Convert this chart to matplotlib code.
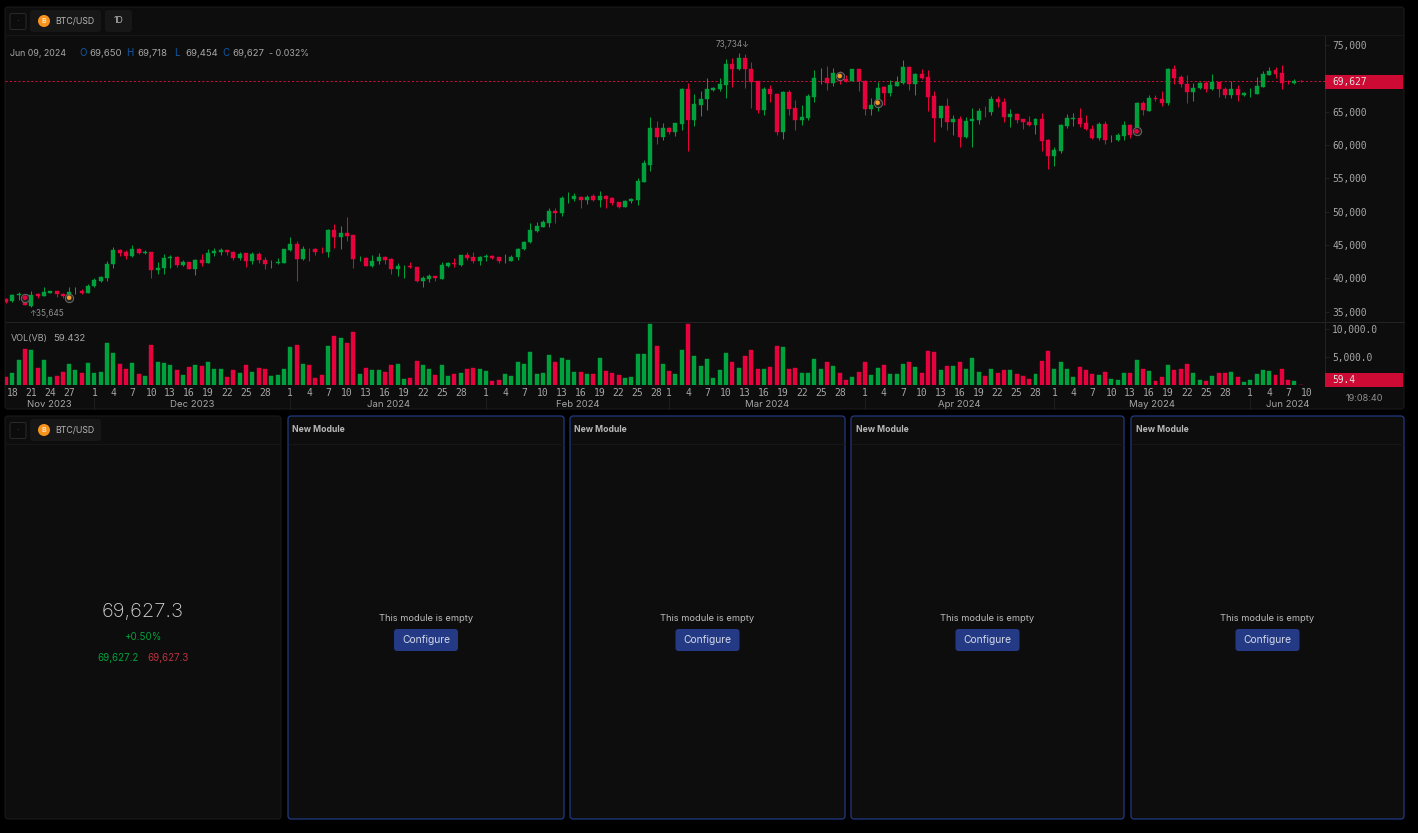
import numpy as np
import pandas as pd
import matplotlib
matplotlib.use('Agg')
import matplotlib.pyplot as plt
import matplotlib.dates as mdates
from matplotlib.patches import FancyBboxPatch, Rectangle, Circle

W, H = 1418, 833

# daily BTC/USD candles, Nov 17 2023 to Jun 9 2024
start_date = '2023-11-17'
opens = [36900,36600,37550,37500,35900,37600,37400,37850,38050,37700,37500,38190,38100,37800,
    38800,39600,40050,42100,44250,44000,43350,44350,43750,44000,41300,41550,43000,43200,42000,42450,41450,42750,42350,43750,44000,44200,43950,43100,43750,42600,43650,42750,42390,42250,42350,
    44250,45150,42900,43510,44350,44210,44000,47200,46250,46800,46450,42890,43000,41900,42600,43250,42850,41450,40990,41800,41700,39600,39950,40300,39950,41900,42250,42050,43450,43150,42650,
    43250,43350,43150,42890,42650,43150,44350,45400,47150,47750,48350,50100,49800,51990,51850,52250,51700,52300,51800,52400,52050,51450,50750,51600,51800,54500,57050,62550,61200,
    62550,62000,63150,68400,63750,65950,66900,68300,68400,69000,72150,71400,73100,71450,69600,65200,68400,67650,61900,67950,65550,63750,64000,67200,69990,70050,69300,70750,69900,69600,71350,
    69650,65400,65900,68650,67750,68850,69250,71700,69150,70650,70150,67350,64050,65800,63450,63900,61250,63550,63750,65010,64950,66950,66450,64200,64600,63900,63500,63000,63900,60700,
    58350,59100,62900,63950,64100,63250,62400,61100,63150,60990,60750,61350,63050,61750,66250,65150,67050,66950,66250,71450,70150,69200,67950,68500,69350,68350,69450,68350,67550,68350,67500,
    67890,67650,68700,70500,71200,70750,69310,69250,69650]
closes = [36500,37550,37700,35950,37550,37400,37950,38050,37650,37400,38000,38200,37800,38900,
    39700,40200,42200,44250,43750,43400,44350,43800,43950,41300,41600,43050,43200,42000,42450,41450,42800,42300,43850,44100,44200,43900,43100,43700,42600,43650,42700,42200,42400,42450,44350,
    45150,42900,44350,43500,44000,44200,47200,46200,46800,46400,42950,42900,41900,42650,43250,42800,41400,41800,41000,41650,39600,40050,40300,40000,41950,42250,42100,43450,43050,42650,43250,
    43400,43050,42650,42900,43250,44450,45500,47250,47850,48450,50100,49800,52050,52000,52300,51700,52250,51800,52350,51900,51300,50750,51650,51900,54600,57250,62550,61200,62550,
    62000,63250,68400,63750,66150,66950,68350,68550,69100,72150,71400,73100,71350,69500,65250,68400,67600,61900,67950,65400,63750,64150,67350,70000,70000,69300,70750,69650,69600,71350,69650,
    65400,65950,68600,67800,68950,69450,71700,69150,70650,70000,67200,64050,65800,63450,63900,61250,63650,63900,65100,65000,66950,66400,64200,64600,63750,63450,63000,63900,60600,58350,
    59200,63050,64000,64100,63100,62350,61100,63150,60800,61000,61450,63000,61500,66300,65200,67000,66900,66250,71450,70050,69100,67950,68600,69350,68350,69450,68350,67550,68350,67450,67800,
    67900,68800,70650,71050,70700,69300,69300,69650,69627]
highs = [37100,37700,37950,37500,38100,37850,38650,38100,38100,37750,38650,38650,38350,39100,
    40000,40350,42550,44650,44450,44250,44950,44500,44250,44000,42450,43600,43450,43300,42750,42500,42900,43650,44450,44500,44550,44250,44050,43900,43800,43900,43950,43250,42750,43100,44400,
    46150,45550,44900,44500,44500,44700,47350,48150,47850,49150,46550,43350,43200,43450,43750,43350,43000,42300,41950,42450,41750,40300,40600,40400,42400,42500,43050,43550,43900,43950,43350,
    43650,43550,43250,43650,43450,44550,45650,48350,48400,48700,50500,50600,52300,52950,52750,52400,52500,52650,53050,52550,52200,51500,51750,52100,55000,57700,64150,63650,63250,
    62650,63350,68550,69250,67650,68150,70000,68750,70000,72900,73000,73734,73700,72500,69650,68750,68950,67750,68050,68200,66750,65950,67600,71200,71550,71800,71550,71050,70500,71400,71400,
    69750,67000,69450,68850,69750,70400,72750,71850,70750,71350,71200,68050,65850,67000,64500,64350,64150,65500,65500,65850,67350,67350,67000,65400,64800,63950,64300,64100,64750,60900,
    59700,63150,64600,64750,65500,64450,63000,63500,63600,61500,61750,63550,63150,66450,66650,67550,67550,68050,71500,72000,70550,70450,69350,69500,69650,70650,69500,68750,69600,69000,67900,
    68500,70250,71050,71650,71650,72000,69700,69900,69718]
lows = [36350,36500,36750,35950,35645,37000,37350,37750,37200,37000,36500,37700,37650,37750,
    38700,39500,39650,41500,43400,42900,43250,43650,43650,40100,40650,40650,41500,41750,41850,41350,40550,41900,42300,43350,43500,43450,42800,42800,41700,42200,42300,41400,41600,42150,42300,
    44150,39650,42800,42600,43500,43750,43250,44550,44350,45650,41500,42600,41800,41750,42150,42200,40650,40300,40050,41600,39450,38650,39500,39650,39900,41650,41750,41900,42750,42350,42000,
    42600,42900,42350,42350,42600,42800,44300,45300,47000,47700,47650,48250,49350,51300,51650,50600,51200,51650,50750,50600,51000,50600,50650,51350,51000,54450,56100,60100,60800,
    61650,61400,62250,59150,62850,64350,65200,68050,68150,67100,68650,71250,68500,65550,64750,64500,66450,61550,60850,64500,62250,63050,63750,66400,69150,68250,68900,69150,69500,69550,68050,
    64550,64500,65100,65950,67400,68850,69150,68250,67450,69950,65100,60450,62700,62250,61500,59750,61000,59650,63150,64250,64500,65750,63500,62700,63300,62350,62850,61700,59150,56400,
    56850,58800,62600,62900,62700,62250,60850,60750,60200,60450,60650,60800,61100,61750,64500,65100,66650,65850,66000,69150,68650,66300,66600,68450,67950,68200,67200,67100,67050,66650,67350,
    67200,67600,68650,70450,70100,68450,69100,69100,69454]
volumes = [1440,2040,4440,6420,6300,3000,4440,1440,1560,2280,3720,2640,2040,3840,
    2160,2280,7560,5640,3720,2880,3840,1920,1560,7080,4020,3840,3540,2580,1680,3120,3540,3300,4140,2820,2880,1320,2580,2040,3480,2280,3000,2880,1560,1740,2760,
    6720,7080,3720,3540,1200,1740,6960,8700,8340,7560,9540,1920,3000,2640,2640,2280,3540,3720,1020,1200,4260,3540,2760,1740,3540,1560,1920,2160,2760,3000,2820,
    2460,720,840,1920,1560,4020,3720,5880,1920,2040,5280,4140,4860,4440,2280,2280,1920,1920,4860,2460,2160,1740,1200,1440,5460,5460,10980,6960,3720,
    2460,1920,6240,10860,5160,3360,4620,1200,2640,5700,4140,3000,5160,6180,2760,2760,3180,6960,6720,2880,3000,2160,2040,4620,2820,4140,3360,2160,900,1320,2280,
    4140,1740,3000,3480,1920,1920,3720,4140,3120,2160,6000,5880,2640,3420,3300,4020,2820,4740,2280,1560,2820,2160,2640,2640,1920,1560,1020,1920,4260,6000,
    2760,4020,2760,1440,3180,2640,1920,1740,2280,1020,840,2040,2040,4440,2760,2460,720,1320,3480,2640,2820,3720,2040,840,720,1560,2040,2160,2280,1440,480,
    840,1920,2640,2460,1740,2760,840,600,59.432]

# 70,000 sits under the last price tag, so the chart leaves it out
price_ticks = [35000, 40000, 45000, 50000, 55000, 60000, 65000, 75000]
vol_ticks = [5000, 10000]
last_price = 69627
last_vol = 59.4

tick_days = [1, 4, 7, 10, 13, 16, 19, 22, 25, 28]
months = ['2023-12', '2024-01', '2024-02', '2024-03', '2024-04', '2024-05', '2024-06']

signal_dates = ['2023-11-20', '2023-11-27', '2024-03-28', '2024-04-03', '2024-05-14']
signal_prices = [37100, 37100, 70350, 66350, 62050]
signal_colors = ['#e4003a', '#f59a23', '#f59a23', '#f59a23', '#e4003a']

legend_items = [('O', 79, '69,650', 89.5), ('H', 126, '69,718', 137),
                ('L', 174, '69,454', 185), ('C', 222, '69,627', 232)]

module_panels = [(288, 564), (570, 845), (851, 1124), (1131, 1404)]

GREEN = '#00a13c'
RED = '#e6023c'
PANEL = '#0d0d0d'
GRID = '#242424'
TEXT = '#a6a6a6'
SANS = 'Inter'
MONO = 'DejaVu Sans Mono'


def axes_px(fig, x0, y0, x1, y1, **kw):
    return fig.add_axes([x0 / W, 1 - y1 / H, (x1 - x0) / W, (y1 - y0) / H], **kw)


def panel(bg, x0, y0, x1, y1, edge='#1a1a1a', lw=0.8):
    bg.add_patch(FancyBboxPatch((x0 + 3, y0 + 3), x1 - x0 - 6, y1 - y0 - 6,
                                boxstyle='round,pad=3', fc=PANEL, ec=edge, lw=lw))


def chip(bg, x0, y0, x1, y1, color='#171717'):
    bg.add_patch(FancyBboxPatch((x0 + 3, y0 + 3), x1 - x0 - 6, y1 - y0 - 6,
                                boxstyle='round,pad=3', fc=color, ec='none'))


def symbol_header(bg, y):
    # collapse box, then coin chip
    bg.add_patch(FancyBboxPatch((11.5, y - 6), 13, 13, boxstyle='round,pad=1.5',
                                fc='#0c0c0c', ec='#2a2a2a', lw=0.7))
    bg.text(17.8, y + 0.3, '·', color='#555555', fontsize=6, ha='center', va='center')
    chip(bg, 30, y - 11, 101, y + 11)
    bg.add_patch(Circle((44, y), 6, fc='#f7931a', ec='none'))
    bg.text(44, y + 0.3, 'B', color='#f8e3c4', fontsize=5, fontweight='bold',
            ha='center', va='center', family=SANS)
    bg.text(55, y, 'BTC/USD', color='#b5b5b5', fontsize=6.3, va='center', family=SANS)


fig = plt.figure(figsize=(W / 100, H / 100), dpi=100, facecolor='#000000')

bg = axes_px(fig, 0, 0, W, H)
bg.set_xlim(0, W)
bg.set_ylim(H, 0)
bg.axis('off')

# panels
panel(bg, 5, 7, 1404, 409)
panel(bg, 5, 416, 281, 819)
for x0, x1 in module_panels:
    panel(bg, x0, 416, x1, 819, edge='#24408f', lw=0.8)
    bg.plot([x0 + 1, x1 - 1], [444, 444], color='#171717', lw=0.7)
    bg.text(x0 + 4.5, 429.5, 'New Module', color='#b8b8b8', fontsize=6.2, fontweight='bold',
            va='center', family=SANS)
    cx = (x0 + x1) / 2
    bg.text(cx, 618.5, 'This module is empty', color='#bdbdbd', fontsize=6.7,
            ha='center', va='center', family=SANS)
    bg.add_patch(FancyBboxPatch((cx - 29, 632), 58, 16, boxstyle='round,pad=3',
                                fc='#253a85', ec='none'))
    bg.text(cx, 640, 'Configure', color='#d3d8e8', fontsize=7.4, ha='center', va='center',
            family=SANS)
bg.plot([6, 1403], [35, 35], color='#171717', lw=0.7)
bg.plot([6, 280], [444, 444], color='#171717', lw=0.7)

symbol_header(bg, 21)
chip(bg, 105, 10, 132, 32)
bg.text(118.5, 20.5, '1D', color='#b5b5b5', fontsize=6.3, ha='center', va='center', family=SANS)
symbol_header(bg, 430)

# ticker module
bg.text(143, 612, '69,627.3', color='#d4d4d4', fontsize=14.5, ha='center', va='center',
        family=SANS, fontweight='light')
bg.text(143, 637.5, '+0.50%', color=GREEN, fontsize=7, ha='center', va='center', family=SANS)
bg.text(118, 658, '69,627.2', color=GREEN, fontsize=7, ha='center', va='center', family=SANS)
bg.text(168, 658, '69,627.3', color='#b8323f', fontsize=7, ha='center', va='center', family=SANS)

# candles and volume
dates = pd.date_range(start_date, periods=len(opens), freq='D')
x = mdates.date2num(dates)
opens = np.array(opens, dtype=float)
closes = np.array(closes, dtype=float)
highs = np.array(highs, dtype=float)
lows = np.array(lows, dtype=float)
volumes = np.array(volumes, dtype=float)
up = closes >= opens
colors = np.where(up, GREEN, RED)
tops = np.maximum(opens, closes)
bottoms = np.minimum(opens, closes)
has_body = np.abs(closes - opens) > 10

x_nov18 = mdates.date2num(pd.Timestamp('2023-11-18'))
px_per_day = 6.316
xlim = (x_nov18 + (5 - 12.3) / px_per_day, x_nov18 + (1325 - 12.3) / px_per_day)

ax = axes_px(fig, 5, 36, 1325, 322, facecolor='none')
ax_vol = axes_px(fig, 5, 322, 1325, 385, facecolor='none')

ax.axhline(last_price, color='#d0103a', lw=0.7, ls=(0, (2.2, 2.2)), zorder=1)
ax.vlines(x, lows, highs, colors=colors, lw=0.75, zorder=2)
ax.bar(x[has_body], (tops - bottoms)[has_body], bottom=bottoms[has_body], width=0.63,
       color=colors[has_body], edgecolor=colors[has_body], linewidth=0.3, zorder=3)

sx = mdates.date2num(pd.to_datetime(signal_dates))
ax.scatter(sx, signal_prices, s=36, facecolor='#222222', edgecolor='#6a6a6a', lw=0.7, zorder=4)
ax.scatter(sx, signal_prices, s=11, c=signal_colors, lw=0, zorder=5)

ax.set_xlim(*xlim)
ax.set_ylim(33450, 76350)
ax.set_xticks([])
ax.yaxis.tick_right()
ax.set_yticks(price_ticks)
ax.set_yticklabels([f'{p:,}' for p in price_ticks], family=MONO, fontsize=6.9, color=TEXT)
ax.tick_params(axis='y', length=3, width=0.6, color=GRID, pad=2.2)

ax_vol.bar(x, volumes, width=0.63, color=colors, edgecolor=colors, linewidth=0.3)
# the last bar is under a pixel tall, keep it visible as a hairline
ax_vol.hlines(volumes[-1], x[-1] - 0.315, x[-1] + 0.315, color=colors[-1], lw=0.9)
ax_vol.set_xlim(*xlim)
ax_vol.set_ylim(-30, 11280)
ax_vol.yaxis.tick_right()
ax_vol.set_yticks(vol_ticks)
ax_vol.set_yticklabels([f'{v:,.1f}' for v in vol_ticks], family=MONO, fontsize=6.9, color=TEXT)
ax_vol.tick_params(axis='y', length=3, width=0.6, color=GRID, pad=2.2)

# date ticks
tick_dates = [pd.Timestamp('2023-11-18'), pd.Timestamp('2023-11-21'),
              pd.Timestamp('2023-11-24'), pd.Timestamp('2023-11-27')]
for m in months:
    for d in tick_days:
        t = pd.Timestamp(f'{m}-{d:02d}')
        if t <= pd.Timestamp('2024-06-10') and not (m == '2024-06' and d > 10):
            tick_dates.append(t)
ax_vol.set_xticks(mdates.date2num(tick_dates))
ax_vol.set_xticklabels([str(t.day) for t in tick_dates], family=MONO, fontsize=7, color=TEXT)
ax_vol.tick_params(axis='x', length=0, pad=2.3)

for a in (ax, ax_vol):
    for s in ('top', 'left', 'bottom'):
        a.spines[s].set_visible(False)
    a.spines['right'].set_color(GRID)
    a.spines['right'].set_linewidth(0.7)

# month labels, centred on the visible part of each month
bounds = [xlim[0]] + [mdates.date2num(pd.Timestamp(m + '-01')) for m in months] + [xlim[1]]
month_names = ['Nov 2023'] + [pd.Timestamp(m + '-01').strftime('%b %Y') for m in months]
to_px = lambda v: 5 + (v - xlim[0]) * px_per_day
for i, name in enumerate(month_names):
    mid = (to_px(bounds[i]) + to_px(bounds[i + 1])) / 2
    bg.text(mid, 404.5, name, color=TEXT, fontsize=6.9, ha='center', va='center', family=SANS)
    if i > 0:
        bg.plot([to_px(bounds[i])] * 2, [398, 408.5], color='#1e1e1e', lw=0.7)

bg.plot([5.5, 1403.5], [322, 322], color=GRID, lw=0.7)

# top layer for the overlays that sit on the chart
top = axes_px(fig, 0, 0, W, H, facecolor='none')
top.set_xlim(0, W)
top.set_ylim(H, 0)
top.axis('off')

top.text(10.5, 53, 'Jun 09, 2024', color=TEXT, fontsize=6.4, va='center', family=SANS)
for key, kx, val, vx in legend_items:
    top.text(kx, 53, key, color='#0f5aa6', fontsize=7, va='center', family=SANS)
    top.text(vx, 53, val, color=TEXT, fontsize=6.9, va='center', family=SANS)
top.text(269, 53, '- 0.032%', color=TEXT, fontsize=6.4, va='center', family=SANS)
top.text(10.5, 338.5, 'VOL(VB)', color=TEXT, fontsize=6.5, va='center', family=SANS)
top.text(53, 338.5, '59.432', color=TEXT, fontsize=6.9, va='center', family=SANS)

top.text(29, 314, '↑35,645', color='#8f8f8f', fontsize=5.9, va='center',
         family=['Inter', 'DejaVu Sans'])
top.text(716, 44, '73,734↓', color='#8f8f8f', fontsize=5.9, va='center',
         family=['Inter', 'DejaVu Sans'])

top.add_patch(Rectangle((1325, 75), 78, 14, fc='#cc0a33', ec='none'))
top.text(1332, 82, f'{last_price:,}', color='#e2e2e2', fontsize=6.9, va='center', family=MONO)
top.add_patch(Rectangle((1325, 373), 78, 14, fc='#cc0a33', ec='none'))
top.text(1332, 380, f'{last_vol}', color='#e2e2e2', fontsize=6.9, va='center', family=MONO)
top.text(1364, 398.5, '19:08:40', color='#8f8f8f', fontsize=6.6, ha='center', va='center',
         family=SANS)

fig.savefig('out.png', dpi=100, facecolor=fig.get_facecolor())
